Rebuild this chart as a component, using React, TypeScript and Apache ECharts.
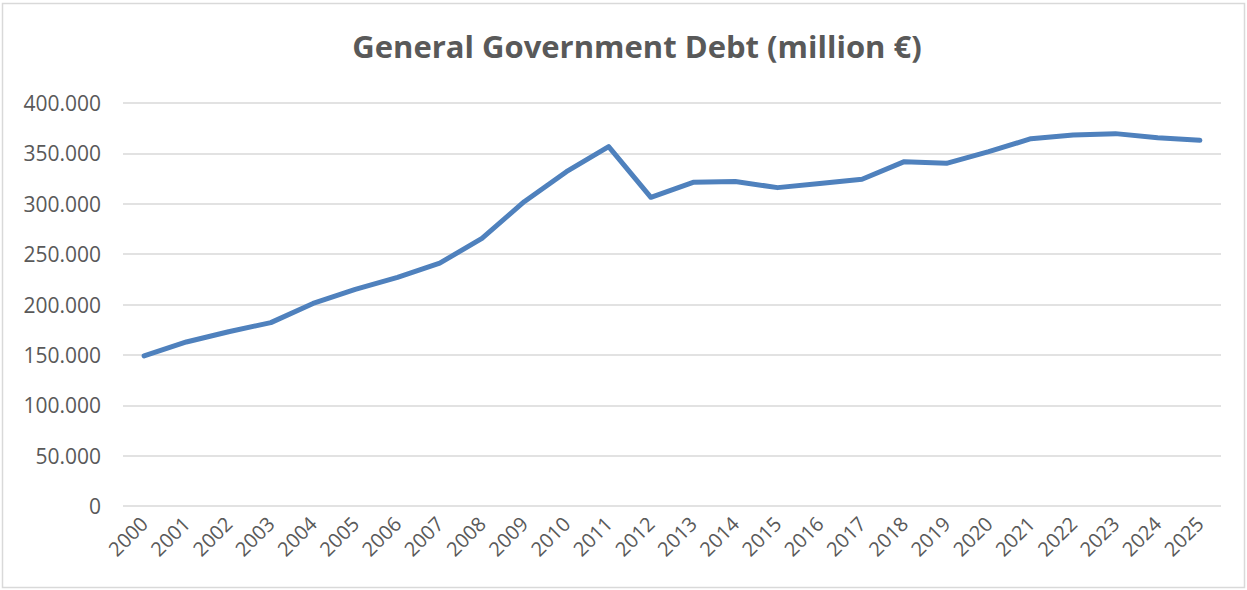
import React, { useEffect, useRef } from "react";
import * as echarts from "echarts";

const titleText = "General Government Debt (million €)";
const years = [
  "2000", "2001", "2002", "2003", "2004", "2005", "2006", "2007", "2008", "2009",
  "2010", "2011", "2012", "2013", "2014", "2015", "2016", "2017", "2018", "2019",
  "2020", "2021", "2022", "2023", "2024", "2025",
];
const debt = [
  148900, 162800, 173000, 182000, 201000, 215000, 227000, 241000, 265700, 302000,
  331800, 356700, 306400, 321300, 322000, 316000, 320000, 324300, 341800, 340100,
  351700, 364600, 368300, 369600, 365600, 363000,
];
const yMin = 0;
const yMax = 400000;
const yStep = 50000;

function fmt(v: number): string {
  const s = Math.round(v).toString();
  return s.replace(/\B(?=(\d{3})+(?!\d))/g, ".");
}

export default function App() {
  const ref = useRef<HTMLDivElement>(null);
  useEffect(() => {
    if (!ref.current) return;
    const chart = echarts.init(ref.current, null, { renderer: "svg" });
    chart.setOption({
      animation: false,
      backgroundColor: "#ffffff",
      title: {
        text: titleText,
        left: 632,
        top: 25,
        textAlign: "center",
        textStyle: {
          fontFamily: "Open Sans",
          fontWeight: "bold",
          fontSize: 31,
          color: "#595959",
        },
      },
      graphic: [
        {
          type: "rect",
          shape: { x: 2.5, y: 3.5, width: 1242, height: 584 },
          style: { fill: "none", stroke: "#D9D9D9", lineWidth: 1.5 },
          silent: true,
        },
      ],
      grid: { left: 123, right: 26, top: 103, bottom: 84, containLabel: false },
      xAxis: {
        type: "category",
        data: years,
        boundaryGap: true,
        axisLine: { show: false },
        axisTick: { show: false },
        axisLabel: {
          rotate: 45,
          interval: 0,
          margin: 14,
          color: "#595959",
          fontSize: 20,
          fontFamily: "Open Sans",
        },
      },
      yAxis: {
        type: "value",
        min: yMin,
        max: yMax,
        interval: yStep,
        axisLine: { show: false },
        axisTick: { show: false },
        splitLine: { lineStyle: { color: "#D9D9D9", width: 1.5 } },
        axisLabel: {
          formatter: (v: number) => fmt(v),
          color: "#595959",
          fontSize: 21,
          fontFamily: "Open Sans",
          margin: 22,
        },
      },
      series: [
        {
          type: "line",
          data: debt,
          symbol: "none",
          lineStyle: { color: "#4F81BD", width: 5, cap: "round", join: "round" },
        },
      ],
    });
    return () => chart.dispose();
  }, []);
  return (
    <div
      ref={ref}
      style={{ position: "fixed", left: 0, top: 0, width: 1247, height: 590 }}
    />
  );
}
